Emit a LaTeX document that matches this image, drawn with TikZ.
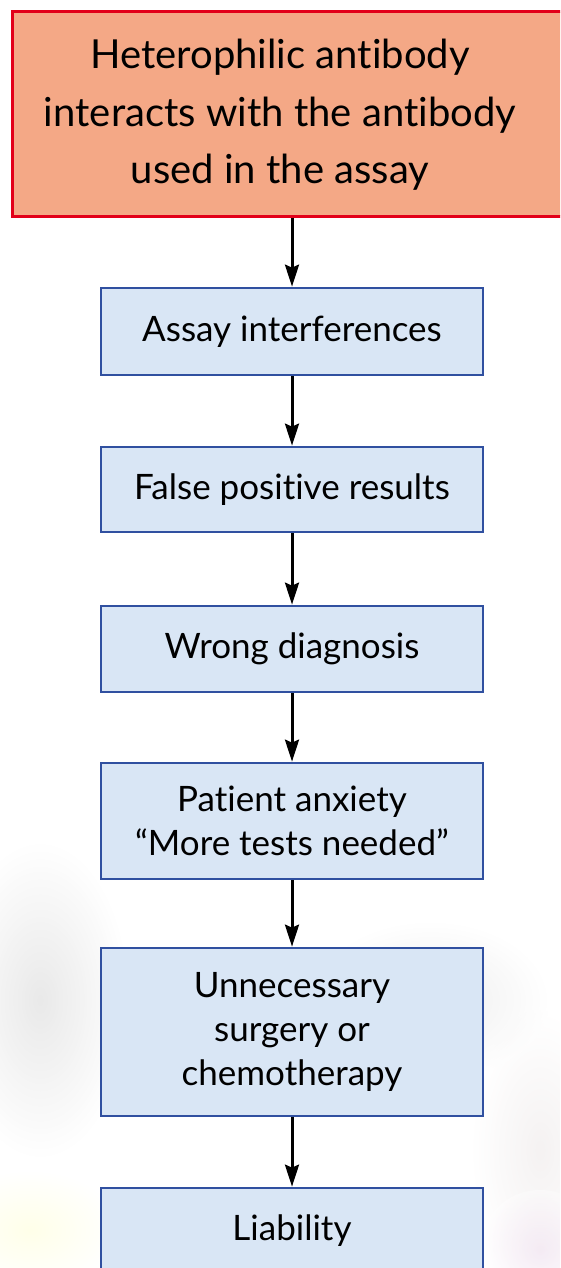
\documentclass[tikz,border=0pt]{standalone}
\usepackage{fontspec}
\setmainfont{Lato}[Ligatures={NoCommon}]
\usetikzlibrary{arrows.meta}
\definecolor{salmon}{HTML}{F4A886}
\definecolor{redb}{HTML}{E2001A}
\definecolor{bluef}{HTML}{D9E6F5}
\definecolor{blueb}{HTML}{3050A0}
\tikzset{
 stepbox/.style={draw=blueb, line width=2.7pt, fill=bluef, minimum width=382pt, inner sep=0pt, align=center, font=\fontsize{35}{44}\selectfont},
 conn/.style={-{Stealth[length=22pt,width=14pt,inset=3pt]}, line width=3pt, black},
 blob/.style={opacity=0.35},
}
\begin{document}
\begin{tikzpicture}[x=1pt,y=-1pt]
\path[use as bounding box] (0,0) rectangle (560,1268);
\clip (0,0) rectangle (560,1268);
% faint blurred background
\shade[inner color=black!25, outer color=white, blob] (40,1000) ellipse (90 and 160);
\shade[inner color=red!20!black!15, outer color=white, blob] (540,1150) ellipse (70 and 140);
\shade[inner color=yellow!25, outer color=white, blob] (30,1230) ellipse (90 and 60);
\shade[inner color=black!20, outer color=white, blob] (430,1000) ellipse (120 and 80);
\shade[inner color=violet!20, outer color=white, blob] (540,1250) ellipse (60 and 60);
% top box
\node[draw=redb, line width=3pt, fill=salmon, minimum width=560pt, minimum height=204pt, inner sep=0pt] (top) at (292,114) {};
\node[align=center, font=\fontsize{40}{57.5}\selectfont] (toptext) at (280,115) {Heterophilic antibody\\interacts with the antibody\\used in the assay};
% steps
\node[stepbox, minimum height=87pt] (b1) at (292,331.5) {Assay interferences};
\node[stepbox, minimum height=85pt] (b2) at (292,489.5) {False positive results};
\node[stepbox, minimum height=86pt] (b3) at (292,649) {Wrong diagnosis};
\node[stepbox, minimum height=116pt] (b4) at (292,821) {Patient anxiety\\“More tests needed”};
\node[stepbox, minimum height=168pt] (b5) at (292,1032) {Unnecessary\\surgery or\\chemotherapy};
\node[stepbox, minimum height=85pt] (b6) at (292,1230.5) {Liability};
% connectors
\draw[conn] (top) -- (b1);
\draw[conn] (b1) -- (b2);
\draw[conn] (b2) -- (b3);
\draw[conn] (b3) -- (b4);
\draw[conn] (b4) -- (b5);
\draw[conn] (b5) -- (b6);
\end{tikzpicture}
\end{document}
